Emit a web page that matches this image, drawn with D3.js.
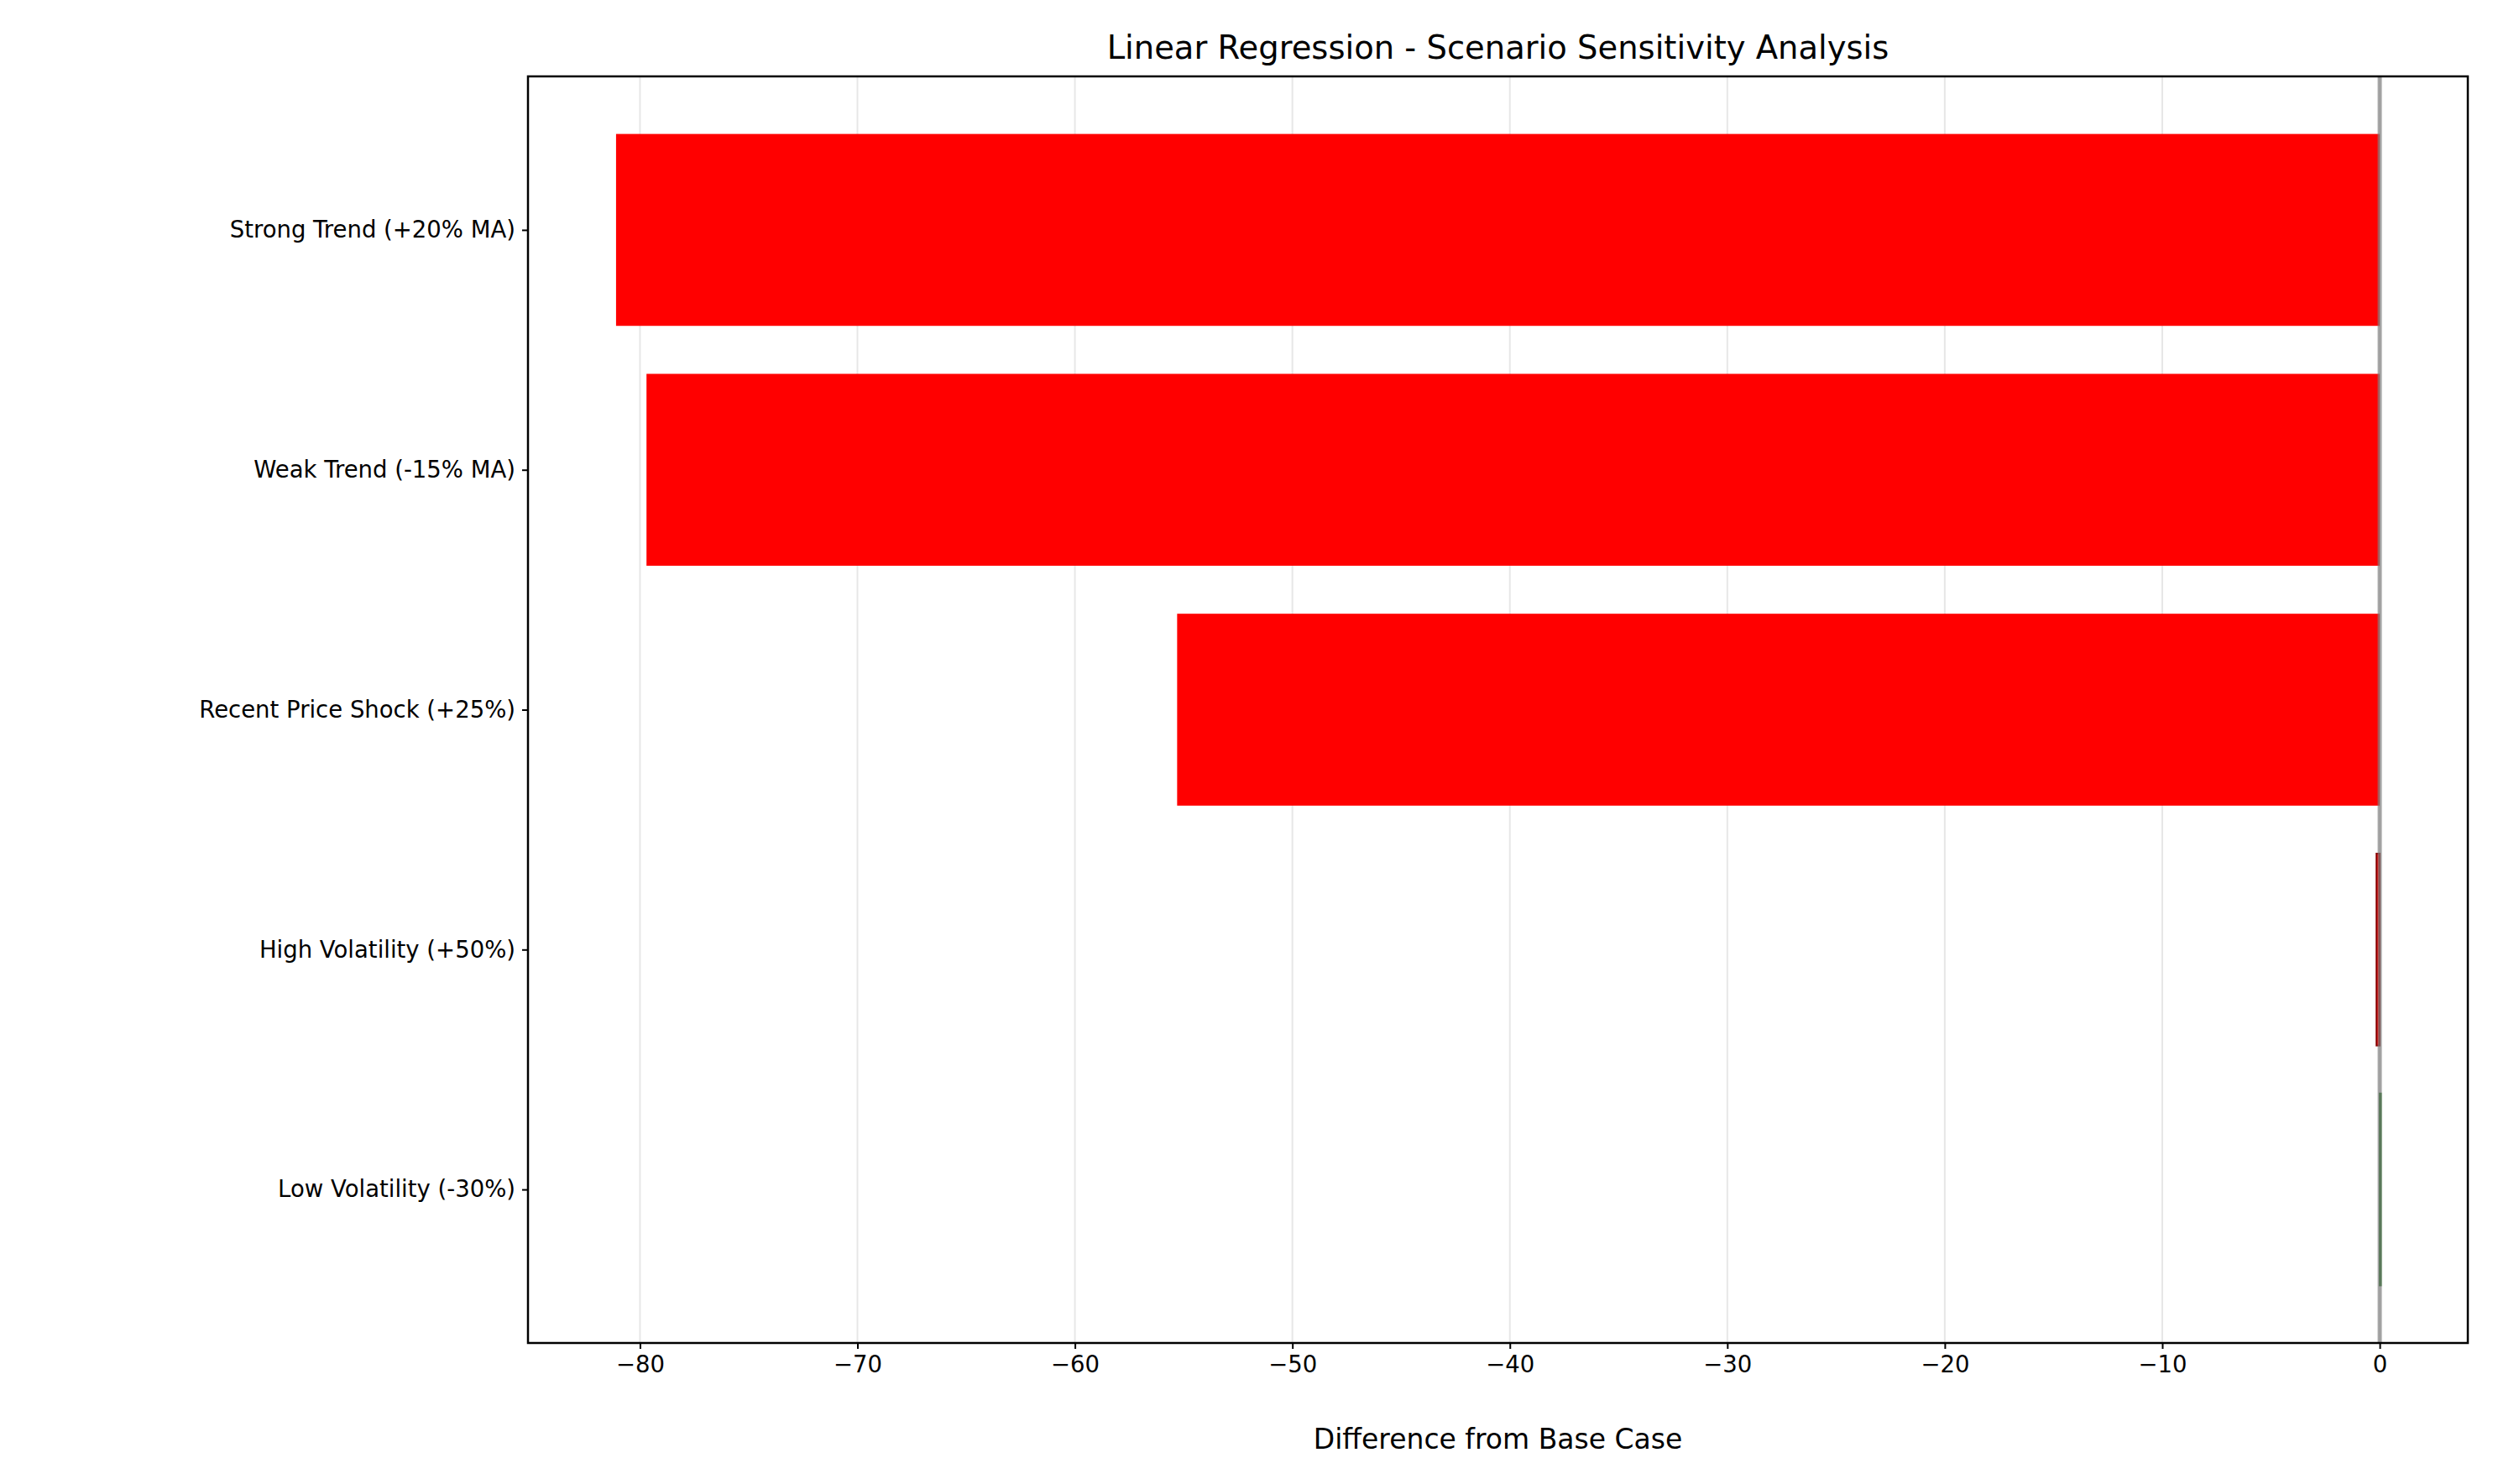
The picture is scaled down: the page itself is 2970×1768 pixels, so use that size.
<!DOCTYPE html>
<html><head><meta charset="utf-8">
<script src="https://cdn.jsdelivr.net/npm/d3@7"></script>
<style>body{margin:0;background:#fff}text{font-family:"DejaVu Sans",sans-serif}</style>
</head><body><svg id="chart" width="2970" height="1768"></svg>
<script>
// data
var scenarios = ['Strong Trend (+20% MA)','Weak Trend (-15% MA)','Recent Price Shock (+25%)','High Volatility (+50%)','Low Volatility (-30%)'];
var diffs = [-81.1, -79.7, -55.3, -0.15, 0.05];
var xTicks = [-80,-70,-60,-50,-40,-30,-20,-10,0];

var svg = d3.select('#chart');
var L = 629, R = 2940, T = 91, B = 1600;

var x = d3.scaleLinear().domain([-85.15, 4.05]).range([L, R]);
var y = d3.scaleLinear().domain([-0.64, 4.64]).range([T, B]);

//grid
svg.selectAll('.grid').data(xTicks).join('line')
	.attr('x1', d => x(d)).attr('x2', d => x(d))
	.attr('y1', T).attr('y2', B)
	.style('stroke', '#b0b0b0').style('stroke-opacity', 0.3).style('stroke-width', 2);

//bars
svg.selectAll('.bar').data(diffs).join('rect')
	.attr('x', d => x(Math.min(0, d)))
	.attr('width', d => Math.abs(x(d) - x(0)))
	.attr('y', (d, i) => y(i - 0.4))
	.attr('height', y(0.8) - y(0))
	.style('fill', d => d < 0 ? 'red' : 'green')
	.style('stroke', d => d < 0 ? 'darkred' : 'darkgreen')
	.style('stroke-width', (d) => Math.abs(d) < 1 ? 2 : 0);

//zero line
svg.append('line')
	.attr('x1', x(0)).attr('x2', x(0)).attr('y1', T).attr('y2', B)
	.style('stroke', 'gray').style('stroke-opacity', 0.7).style('stroke-width', 5);

//axes
var xAxis = svg.append('g').attr('transform', `translate(0,${B})`)
	.call(d3.axisBottom(x).tickValues(xTicks).tickSize(7).tickPadding(8).tickFormat(d => d < 0 ? '\u2212' + (-d) : d));
var yAxis = svg.append('g').attr('transform', `translate(${L},0)`)
	.call(d3.axisLeft(y).tickValues(d3.range(scenarios.length)).tickSize(7).tickPadding(8).tickFormat(i => scenarios[i]));
[xAxis, yAxis].forEach(a => {
	a.select('.domain').remove();
	a.selectAll('line').style('stroke', '#000').style('stroke-width', 2);
	a.selectAll('text').style('font-size', '27.5px').style('fill', '#000').style('font-family', '"DejaVu Sans"');
});

svg.append('rect').attr('x', L).attr('y', T).attr('width', R - L).attr('height', B - T)
	.style('fill', 'none').style('stroke', '#000').style('stroke-width', 2.5);

svg.append('text').attr('x', (L + R) / 2).attr('y', 70)
	.style('text-anchor', 'middle').style('font-size', '38.5px')
	.text('Linear Regression - Scenario Sensitivity Analysis');
svg.append('text').attr('x', (L + R) / 2).attr('y', 1726)
	.style('text-anchor', 'middle').style('font-size', '33px')
	.text('Difference from Base Case');
</script></body></html>
